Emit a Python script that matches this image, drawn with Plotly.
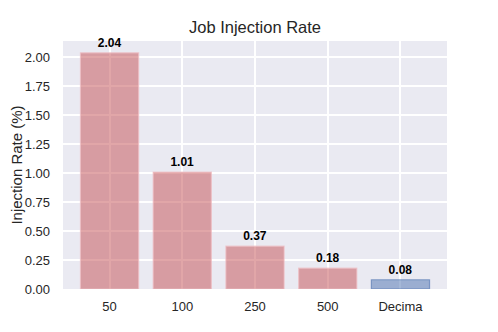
import plotly.graph_objects as go

categories = ["50", "100", "250", "500", "Decima"]
rates = [2.04, 1.01, 0.37, 0.18, 0.08]
y_ticks = [0.0, 0.25, 0.5, 0.75, 1.0, 1.25, 1.5, 1.75, 2.0]

red = "rgba(196,78,82,0.5)"
blue = "rgba(76,114,176,0.5)"
colors = [red, red, red, red, blue]
edges = ["rgba(240,190,195,0.7)"] * 4 + ["rgba(76,114,176,0.6)"]

fig = go.Figure(go.Bar(
    x=list(range(len(categories))),
    y=rates,
    width=0.8,
    marker=dict(color=colors, line=dict(color=edges, width=1.2)),
    text=[f"<b>{v:.2f}</b>" for v in rates],
    textposition="outside",
    textfont=dict(family="Liberation Sans, Arial", size=12, color="black"),
    cliponaxis=False,
    hoverinfo="none",
))

# page body has an 8px margin, so the margins are shifted to compensate
fig.update_layout(
    width=498, height=332,
    margin=dict(l=55, r=59, t=33, b=51, autoexpand=False),
    paper_bgcolor="white",
    plot_bgcolor="#EAEAF2",
    font=dict(family="Liberation Sans, Arial", size=13, color="#262626"),
    title=dict(text="Job Injection Rate", x=0.496, xanchor="center",
               y=0.941, yanchor="middle", font=dict(size=16.5, color="#262626")),
    bargap=0.2,
    showlegend=False,
    xaxis=dict(
        range=[-0.64, 4.64],
        tickvals=list(range(len(categories))),
        ticktext=categories,
        showgrid=True, gridcolor="white", gridwidth=1.5,
        zeroline=False, showline=False, automargin=False,
        ticks="", ticklabelstandoff=8,
    ),
    yaxis=dict(
        title=dict(text="Injection Rate (%)", standoff=6,
                   font=dict(family="Liberation Sans, Arial", size=15, color="#262626")),
        range=[0, 2.142],
        tickvals=y_ticks,
        tickformat=".2f",
        showgrid=True, gridcolor="white", gridwidth=1.5,
        zeroline=False, showline=False, automargin=False,
        ticks="", ticklabelstandoff=12,
    ),
)

fig.write_html("out.html")
